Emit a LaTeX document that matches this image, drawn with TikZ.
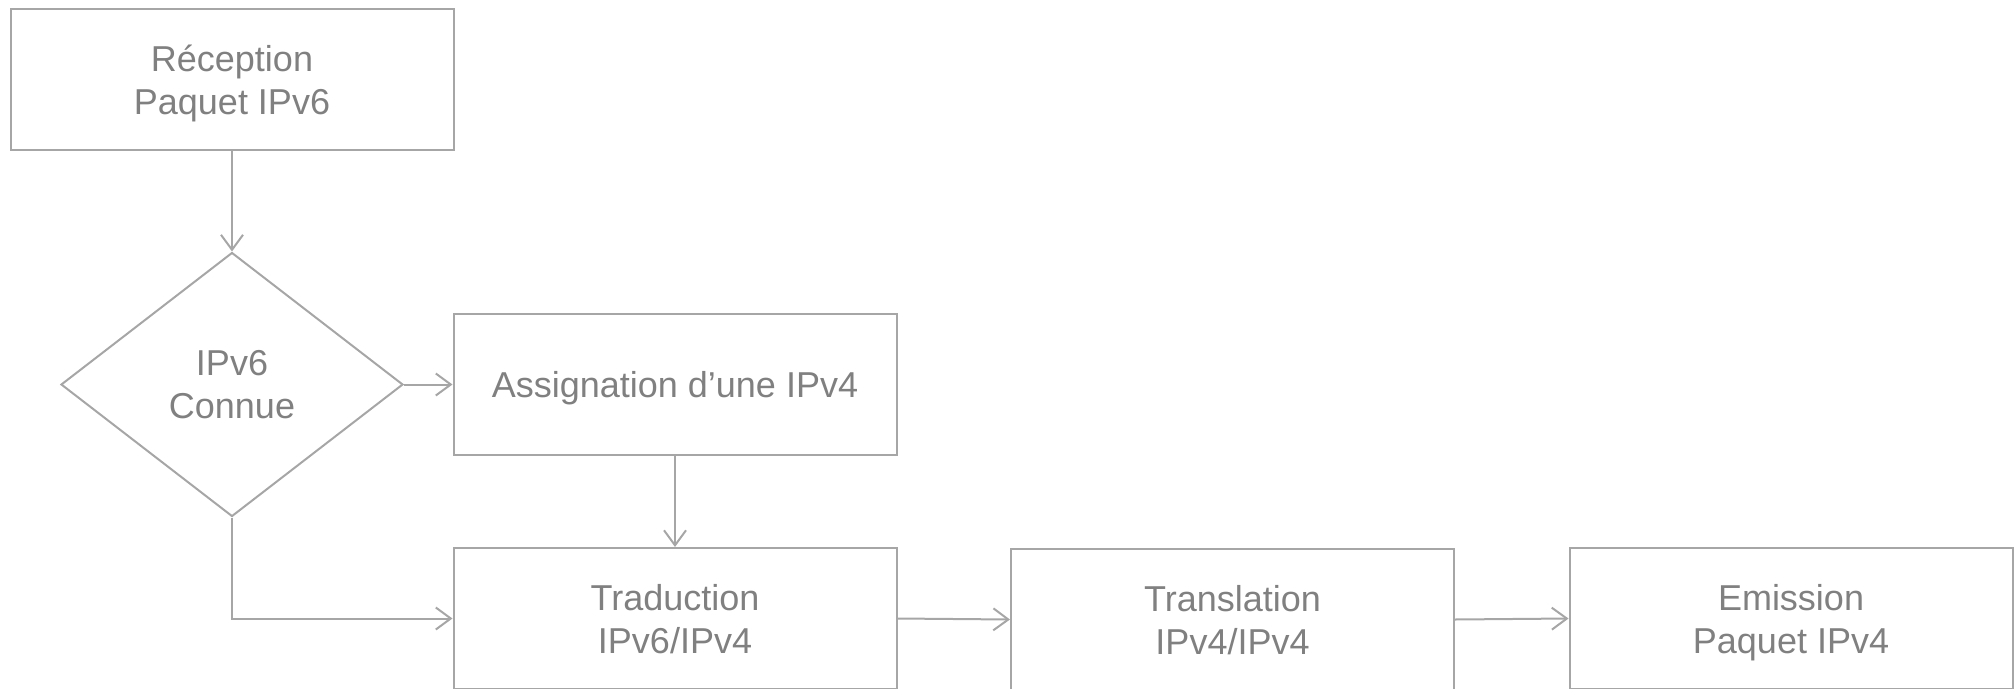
\documentclass[tikz,border=0pt]{standalone}
\usepackage{fontspec}
\setmainfont{Liberation Sans}
\usetikzlibrary{shapes.geometric,arrows.meta}
\definecolor{edgegray}{HTML}{A6A6A6}
\definecolor{textgray}{HTML}{808080}
\begin{document}
\begin{tikzpicture}[x=1pt,y=1pt,
  every node/.style={font=\fontsize{36}{43}\selectfont, text=textgray, align=center, text depth=0pt},
  procbox/.style={draw=edgegray, line width=2pt, minimum width=443pt, minimum height=141pt, inner sep=0pt},
  decision/.style={diamond, draw=edgegray, line width=2pt, minimum width=342pt, minimum height=264pt, inner sep=0pt},
  flow/.style={draw=edgegray, line width=2pt, -{Straight Barb[length=15pt,width=22pt,line width=2pt]}}]
\useasboundingbox (0,0) rectangle (2015,-688);
\node[procbox] (rx) at (232,-79.5) {Réception\\Paquet IPv6};
\node[decision] (known) at (232,-384.5) {IPv6\\Connue};
\node[procbox] (assign) at (675,-384.5) {Assignation d’une IPv4};
\node[procbox] (trad) at (675,-618.5) {Traduction\\IPv6/IPv4};
\node[procbox] (trans) at (1232.5,-619.5) {Translation\\IPv4/IPv4};
\node[procbox] (emit) at (1791,-618.5) {Emission\\Paquet IPv4};
\coordinate (corner) at (known.south |- trad.west);
\draw[flow] (rx.south) -- (known.north);
\draw[flow] (known.east) -- (assign.west);
\draw[flow] (assign.south) -- (trad.north);
\draw[flow] (known.south) -- (corner) -- (trad.west);
\draw[flow] (trad.east) -- (trans.west);
\draw[flow] (trans.east) -- (emit.west);
\end{tikzpicture}
\end{document}
